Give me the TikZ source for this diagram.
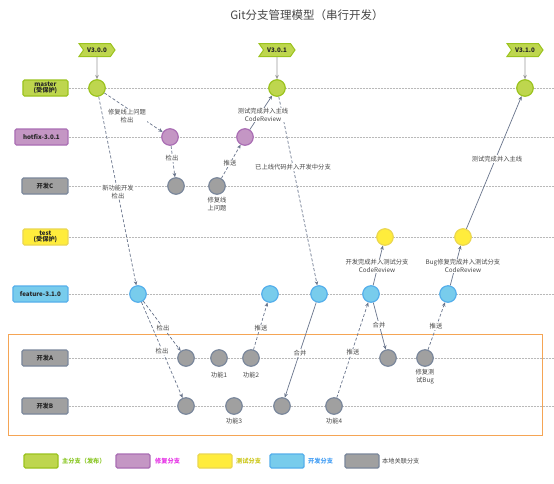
\documentclass[tikz,border=0pt]{standalone}
\usepackage{fontspec}
\newfontfamily\cjk{Noto Sans CJK SC}
\usetikzlibrary{arrows.meta,shapes.symbols}
\definecolor{gfill}{RGB}{190,214,78}
\definecolor{gdraw}{RGB}{155,195,30}
\definecolor{pfill}{RGB}{196,150,196}
\definecolor{pdraw}{RGB}{170,110,180}
\definecolor{yfill}{RGB}{255,236,60}
\definecolor{ydraw}{RGB}{235,215,80}
\definecolor{bfill}{RGB}{120,204,236}
\definecolor{bdraw}{RGB}{85,175,235}
\definecolor{kfill}{RGB}{160,160,160}
\definecolor{kdraw}{RGB}{122,135,155}
\definecolor{conn}{RGB}{105,117,140}
\definecolor{rowline}{RGB}{185,185,185}
\definecolor{orangeb}{RGB}{245,165,85}
\definecolor{txt}{RGB}{70,70,70}
\definecolor{lgreen}{RGB}{140,200,40}
\definecolor{lmag}{RGB}{230,50,230}
\definecolor{lyel}{RGB}{205,200,30}
\definecolor{lblue}{RGB}{70,160,245}
\begin{document}
\begin{tikzpicture}[x=1pt,y=-1pt,
  every node/.style={font=\cjk\fontsize{6.3}{7.6}\selectfont},
  commit/.style={circle, minimum size=16.5pt, inner sep=0pt, line width=1.2pt},
  cg/.style={commit, fill=gfill, draw=gdraw},
  cp/.style={commit, fill=pfill, draw=pdraw},
  cy/.style={commit, fill=yfill, draw=ydraw},
  cb/.style={commit, fill=bfill, draw=bdraw},
  ck/.style={commit, fill=kfill, draw=kdraw},
  branch/.style={rounded corners=1.5pt, line width=1.2pt, minimum height=16pt, inner sep=0pt, align=center, anchor=east, text=black!85, font=\cjk\bfseries\fontsize{6.2}{6.6}\selectfont},
  lbl/.style={fill=white, inner sep=0.6pt, align=center, text=txt},
  cmt/.style={inner sep=0pt, align=center, text=txt},
  con/.style={draw=conn, line width=0.7pt, -{Stealth[length=4.2pt,width=3.6pt]}},
  dcon/.style={con, dash pattern=on 3pt off 2pt},
  row/.style={draw=rowline, line width=0.5pt, dash pattern=on 2pt off 1pt},
  tag/.style={signal, signal to=east, signal from=west, signal pointer angle=110, fill=gfill, draw=gdraw, line width=1pt, minimum width=36pt, minimum height=13pt, inner sep=0pt, text=black!85, font=\cjk\bfseries\fontsize{6.2}{6.6}\selectfont},
  tagarrow/.style={draw=black!40, line width=0.7pt, -{Stealth[length=4.2pt,width=3.6pt]}},
  legbox/.style={rounded corners=1.5pt, line width=1.4pt, minimum width=34pt, minimum height=14pt, inner sep=0pt},
  legtxt/.style={anchor=west, inner sep=0pt, font=\cjk\bfseries\fontsize{6.2}{7}\selectfont}
]
\useasboundingbox (0,0) rectangle (554,483);
\fill[white] (0,0) rectangle (554,483);

% title
\node[text=txt, font=\cjk\fontsize{11.5}{13}\selectfont] (title) at (307,15) {Git分支管理模型（串行开发）};

% orange local area
\draw[orangeb, line width=0.8pt] (8,334) rectangle (542,435);

% branch labels
\node[branch, fill=gfill, draw=gdraw, minimum width=45pt] (bm) at (68.5,88) {master\\(受保护)};
\node[branch, fill=pfill, draw=pdraw, minimum width=53pt] (bh) at (68.5,137) {hotfix-3.0.1};
\node[branch, fill=kfill, draw=kdraw, minimum width=46pt] (bc) at (68.5,186) {开发C};
\node[branch, fill=yfill, draw=ydraw, minimum width=45pt] (bt) at (68.5,237) {test\\(受保护)};
\node[branch, fill=bfill, draw=bdraw, minimum width=55pt] (bf) at (68.5,294) {feature-3.1.0};
\node[branch, fill=kfill, draw=kdraw, minimum width=46pt] (ba) at (68.5,358) {开发A};
\node[branch, fill=kfill, draw=kdraw, minimum width=46pt] (bb) at (68.5,406) {开发B};

\coordinate (em) at (554,88);
\coordinate (eh) at (554,137);
\coordinate (ec) at (554,186);
\coordinate (et) at (554,237);
\coordinate (ef) at (554,294);
\coordinate (ea) at (554,358);
\coordinate (eb) at (554,406);
\draw[row] (bm.east) -- (em);
\draw[row] (bh.east) -- (eh);
\draw[row] (bc.east) -- (ec);
\draw[row] (bt.east) -- (et);
\draw[row] (bf.east) -- (ef);
\draw[row] (ba.east) -- (ea);
\draw[row] (bb.east) -- (eb);

% commits
\node[cg] (m1) at (97,88) {};
\node[cg] (m2) at (277,88) {};
\node[cg] (m3) at (525,88) {};
\node[cp] (h1) at (170,137) {};
\node[cp] (h2) at (245,137) {};
\node[ck] (c1) at (176,186) {};
\node[ck] (c2) at (217,186) {};
\node[cy] (t1) at (385,237) {};
\node[cy] (t2) at (463,237) {};
\node[cb] (f1) at (138,294) {};
\node[cb] (f2) at (270,294) {};
\node[cb] (f3) at (319,294) {};
\node[cb] (f4) at (371,294) {};
\node[cb] (f5) at (448,294) {};
\node[ck] (a1) at (186,358) {};
\node[ck] (a2) at (219,358) {};
\node[ck] (a3) at (251,358) {};
\node[ck] (a4) at (388,358) {};
\node[ck] (a5) at (425,358) {};
\node[ck] (b1) at (186,406) {};
\node[ck] (b2) at (234,406) {};
\node[ck] (b3) at (282,406) {};
\node[ck] (b4) at (334,406) {};

% version tags
\node[tag] (v1) at (97,50) {V3.0.0};
\node[tag] (v2) at (277,50) {V3.0.1};
\node[tag] (v3) at (525,50) {V3.1.0};
\draw[tagarrow] (v1) -- (m1);
\draw[tagarrow] (v2) -- (m2);
\draw[tagarrow] (v3) -- (m3);

% connectors
\draw[dcon] (m1) -- (h1);
\draw[dcon] (h1) -- (c1);
\draw[dcon] (c2) -- (h2);
\draw[con] (h2) -- (m2);
\draw[dcon] (m2) -- (f3);
\draw[dcon] (m1) -- (f1);
\draw[dcon] (f1) -- (a1);
\draw[dcon] (f1) -- (b1);
\draw[dcon] (a3) -- (f2);
\draw[con] (f3) -- (b3);
\draw[dcon] (b4) -- (f4);
\draw[con] (f4) -- (a4);
\draw[con] (f4) -- (t1);
\draw[dcon] (a5) -- (f5);
\draw[con] (f5) -- (t2);
\draw[con] (t2) -- (m3);

% connector labels
\node[lbl] (l1) at (127,116) {修复线上问题\\检出};
\node[lbl] (l2) at (172,158) {检出};
\node[lbl] (l3) at (230,163) {推送};
\node[lbl] (l4) at (263,115) {测试完成并入主线\\CodeReview};
\node[lbl] (l5) at (293,167) {已上线代码并入开发中分支};
\node[lbl] (l6) at (118,192) {新功能开发\\检出};
\node[lbl] (l7) at (163,328) {检出};
\node[lbl] (l8) at (162,351) {检出};
\node[lbl] (l9) at (261,328) {推送};
\node[lbl] (l10) at (300,353) {合并};
\node[lbl] (l11) at (353,352) {推送};
\node[lbl] (l12) at (379,325) {合并};
\node[lbl] (l13) at (377,266) {开发完成并入测试分支\\CodeReview};
\node[lbl] (l14) at (463,266) {Bug修复完成并入测试分支\\CodeReview};
\node[lbl] (l15) at (436,326) {推送};
\node[lbl] (l16) at (497,159) {测试完成并入主线};

% commit notes
\node[cmt, anchor=north] (n1) at (217,197) {修复线\\上问题};
\node[cmt, anchor=north] (n2) at (219,372) {功能1};
\node[cmt, anchor=north] (n3) at (251,372) {功能2};
\node[cmt, anchor=north] (n4) at (234,418) {功能3};
\node[cmt, anchor=north] (n5) at (334,418) {功能4};
\node[cmt, anchor=north] (n6) at (425,369) {修复测\\试Bug};

% legend
\node[legbox, fill=gfill, draw=gdraw] (g1) at (41,461) {};
\node[legtxt, text=lgreen] (g1t) at (62,461) {主分支（发布）};
\node[legbox, fill=pfill, draw=pdraw] (g2) at (133,461) {};
\node[legtxt, text=lmag] (g2t) at (155,461) {修复分支};
\node[legbox, fill=yfill, draw=ydraw] (g3) at (215,461) {};
\node[legtxt, text=lyel] (g3t) at (236,461) {测试分支};
\node[legbox, fill=bfill, draw=bdraw] (g4) at (287,461) {};
\node[legtxt, text=lblue] (g4t) at (308,461) {开发分支};
\node[legbox, fill=kfill, draw=kdraw] (g5) at (362,461) {};
\node[legtxt, text=txt, font=\cjk\fontsize{6.2}{7}\selectfont] (g5t) at (382,461) {本地关联分支};
\end{tikzpicture}
\end{document}
